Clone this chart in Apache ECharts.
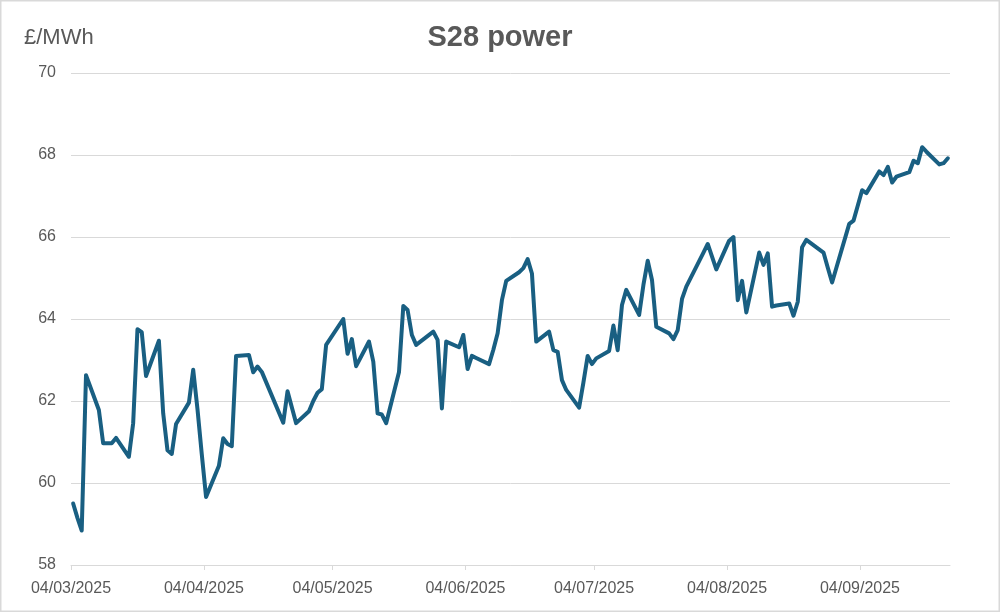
<!DOCTYPE html>
<html>
<head>
<meta charset="utf-8">
<script src="https://cdn.jsdelivr.net/npm/echarts@6/dist/echarts.min.js"></script>
<style>
  html, body { margin: 0; padding: 0; background: #ffffff; }
  #chart { width: 1000px; height: 612px; }
</style>
</head>
<body>
<div id="chart"></div>
<script>
// ---- Data ----
const chartTitle = 'S28 power';
const unitLabel = '£/MWh';
const dates = [
  '2025-03-04','2025-03-05','2025-03-06','2025-03-07','2025-03-10','2025-03-11','2025-03-12','2025-03-13','2025-03-14',
  '2025-03-17','2025-03-18','2025-03-19','2025-03-20','2025-03-21','2025-03-24','2025-03-25','2025-03-26','2025-03-27','2025-03-28',
  '2025-03-31','2025-04-01','2025-04-02','2025-04-03','2025-04-04','2025-04-07','2025-04-08','2025-04-09','2025-04-10','2025-04-11',
  '2025-04-14','2025-04-15','2025-04-16','2025-04-17','2025-04-22','2025-04-23','2025-04-24','2025-04-25',
  '2025-04-28','2025-04-29','2025-04-30','2025-05-01','2025-05-02','2025-05-06','2025-05-07','2025-05-08','2025-05-09',
  '2025-05-12','2025-05-13','2025-05-14','2025-05-15','2025-05-16','2025-05-19','2025-05-20','2025-05-21','2025-05-22','2025-05-23',
  '2025-05-27','2025-05-28','2025-05-29','2025-05-30','2025-06-02','2025-06-03','2025-06-04','2025-06-05','2025-06-06',
  '2025-06-09','2025-06-10','2025-06-11','2025-06-12','2025-06-13','2025-06-16','2025-06-17','2025-06-18','2025-06-19','2025-06-20',
  '2025-06-23','2025-06-24','2025-06-25','2025-06-26','2025-06-27','2025-06-30','2025-07-01','2025-07-02','2025-07-03','2025-07-04',
  '2025-07-07','2025-07-08','2025-07-09','2025-07-10','2025-07-11','2025-07-14','2025-07-15','2025-07-16','2025-07-17','2025-07-18',
  '2025-07-21','2025-07-22','2025-07-23','2025-07-24','2025-07-25','2025-07-28','2025-07-29','2025-07-30','2025-07-31','2025-08-01',
  '2025-08-04','2025-08-05','2025-08-06','2025-08-07','2025-08-08','2025-08-11','2025-08-12','2025-08-13','2025-08-14','2025-08-15',
  '2025-08-18','2025-08-19','2025-08-20','2025-08-21','2025-08-22','2025-08-26','2025-08-27','2025-08-28','2025-08-29',
  '2025-09-01','2025-09-02','2025-09-03','2025-09-04','2025-09-05','2025-09-08','2025-09-09','2025-09-10','2025-09-11','2025-09-12',
  '2025-09-15','2025-09-16','2025-09-17','2025-09-18','2025-09-19','2025-09-22','2025-09-23','2025-09-24'
];
const prices = [
  59.50, 59.15, 58.84, 62.63, 61.78, 60.97, 60.97, 60.97, 61.10,
  60.64, 61.46, 63.75, 63.68, 62.61, 63.47, 61.70, 60.80, 60.71, 61.44,
  61.96, 62.76, 61.80, 60.70, 59.66, 60.42, 61.09, 60.95, 60.90, 63.10,
  63.12, 62.70, 62.84, 62.71, 61.47, 62.24, 61.85, 61.46,
  61.75, 62.00, 62.20, 62.29, 63.37, 64.00, 63.15, 63.51, 62.85,
  63.45, 62.96, 61.70, 61.67, 61.46, 62.71, 64.32, 64.22, 63.61, 63.37,
  63.69, 63.49, 61.82, 63.45, 63.31, 63.61, 62.78, 63.10, 63.05,
  62.90, 63.25, 63.65, 64.46, 64.93, 65.14, 65.24, 65.46, 65.11, 63.45,
  63.69, 63.24, 63.20, 62.51, 62.27, 61.84, 62.45, 63.10, 62.90, 63.04,
  63.22, 63.84, 63.24, 64.34, 64.71, 64.10, 64.83, 65.42, 64.95, 63.81,
  63.65, 63.51, 63.73, 64.49, 64.79, 65.41, 65.62, 65.83, 65.52, 65.21,
  65.91, 66.00, 64.46, 64.93, 64.16, 65.62, 65.32, 65.60, 64.30, 64.33,
  64.38, 64.08, 64.42, 65.75, 65.93, 65.62, 65.25, 64.89, 65.25,
  66.32, 66.40, 66.77, 67.14, 67.07, 67.60, 67.51, 67.71, 67.33, 67.47,
  67.58, 67.86, 67.80, 68.19, 68.08, 67.77, 67.80, 67.92
];
const tickDates = ['2025-03-04','2025-04-04','2025-05-04','2025-06-04','2025-07-04','2025-08-04','2025-09-04'];
const axisStart = '2025-03-04';
const axisEnd = '2025-09-25';
const yMin = 58, yMax = 70, yStep = 2;

// ---- Helpers ----
function toTime(s, hour) {
  const p = s.split('-').map(Number);
  return Date.UTC(p[0], p[1] - 1, p[2], hour || 0);
}
function fmtDate(v) {
  const d = new Date(v);
  const dd = String(d.getUTCDate()).padStart(2, '0');
  const mm = String(d.getUTCMonth() + 1).padStart(2, '0');
  return dd + '/' + mm + '/' + d.getUTCFullYear();
}

const seriesData = dates.map((d, i) => [toTime(d, 12), prices[i]]);
const tickTimes = tickDates.map(d => toTime(d, 0));

const FONT = '"Liberation Sans", Arial, sans-serif';
const TEXT = '#595959';
const GRID = '#d9d9d9';

const chart = echarts.init(document.getElementById('chart'), null, { renderer: 'canvas' });
chart.setOption({
  animation: false,
  backgroundColor: '#ffffff',
  title: [
    {
      text: chartTitle, left: 'center', top: 23, padding: 0,
      textStyle: { fontFamily: FONT, fontSize: 29, fontWeight: 'bold', color: TEXT }
    },
    {
      text: unitLabel, left: 24, top: 27, padding: 0,
      textStyle: { fontFamily: FONT, fontSize: 22, fontWeight: 'normal', color: TEXT }
    }
  ],
  graphic: [{
    type: 'rect', silent: true,
    shape: { x: 0.75, y: 0.75, width: 998.5, height: 610.5 },
    style: { fill: 'none', stroke: GRID, lineWidth: 1.5 }
  }],
  grid: { left: 71, right: 50, top: 73, bottom: 47 },
  xAxis: {
    type: 'value',
    min: toTime(axisStart, 0),
    max: toTime(axisEnd, 0),
    axisLine: { show: true, lineStyle: { color: GRID, width: 1 } },
    axisTick: { show: true, length: 5, lineStyle: { color: GRID }, customValues: tickTimes },
    splitLine: { show: false },
    axisLabel: {
      customValues: tickTimes,
      formatter: v => fmtDate(v),
      fontFamily: FONT, fontSize: 16, color: TEXT, margin: 16,
      hideOverlap: false
    }
  },
  yAxis: {
    type: 'value',
    min: yMin, max: yMax, interval: yStep,
    axisLine: { show: false },
    axisTick: { show: false },
    splitLine: { show: true, lineStyle: { color: GRID, width: 1 } },
    axisLabel: { fontFamily: FONT, fontSize: 16, color: TEXT, margin: 15 }
  },
  series: [{
    type: 'line',
    data: seriesData,
    showSymbol: false,
    symbol: 'none',
    lineStyle: { color: '#195f82', width: 4, join: 'round', cap: 'round' },
    itemStyle: { color: '#195f82' }
  }]
});
</script>
</body>
</html>
